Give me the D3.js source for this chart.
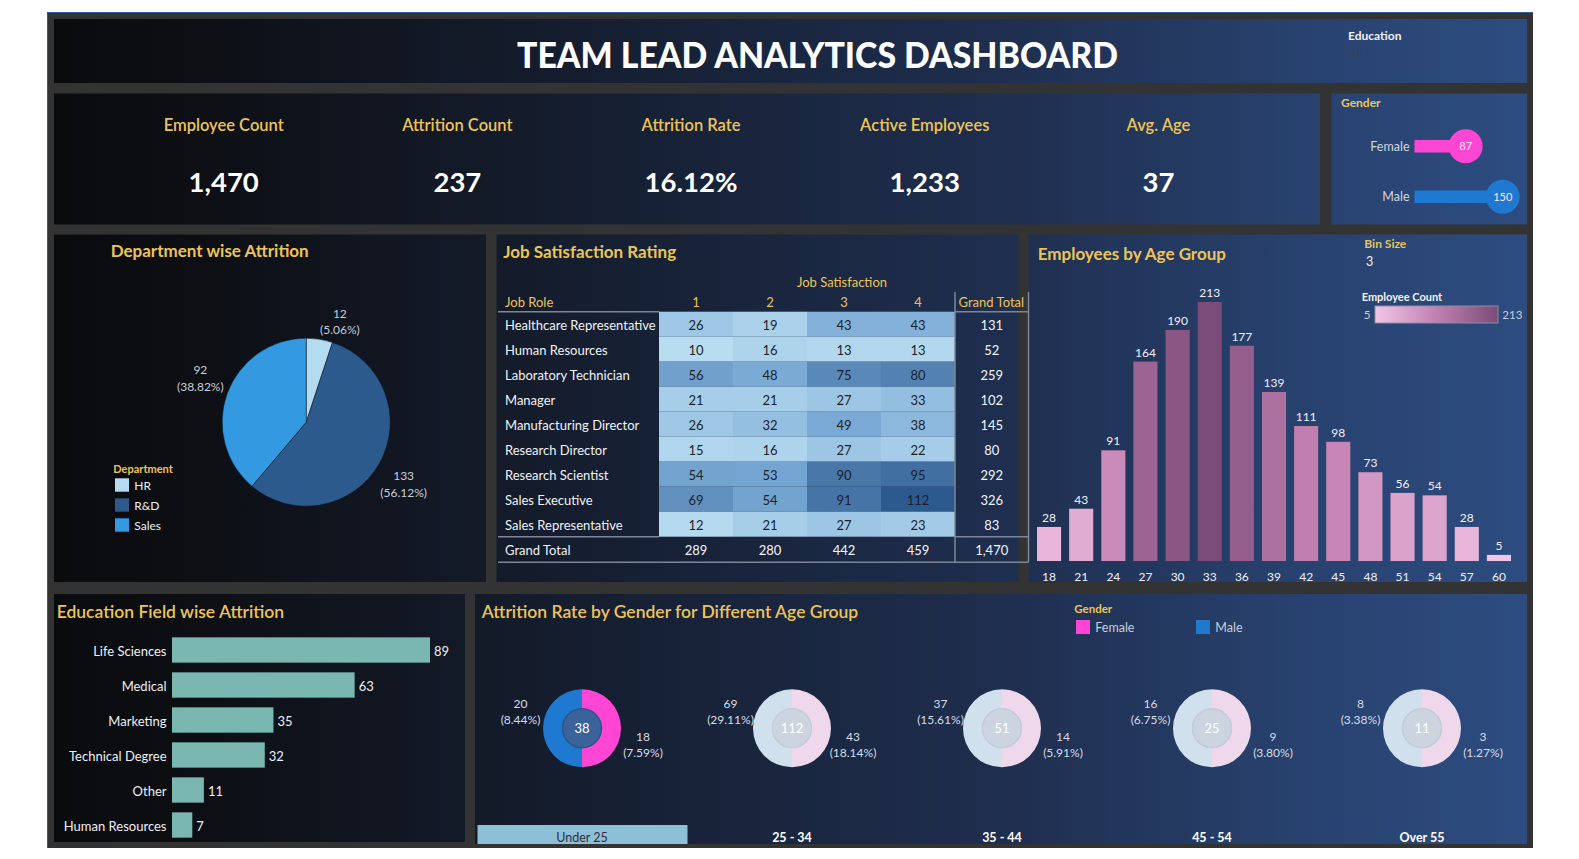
<!DOCTYPE html>
<html>
<head>
<meta charset="utf-8">
<script src="https://cdn.jsdelivr.net/npm/d3@7"></script>
<style>
  html, body { margin: 0; padding: 0; background: #fff; }
  svg { display: block; font-family: Lato, "Noto Sans", sans-serif; }
</style>
</head>
<body>
<div id="chart"></div>
<script>
const W = 1579, H = 859;
const gold = "#ecc45a";

// KPI strip
const kpiLabels = ["Employee Count", "Attrition Count", "Attrition Rate", "Active Employees", "Avg. Age"];
const kpiValues = ["1,470", "237", "16.12%", "1,233", "37"];

// gender filter (lollipop)
const genders = ["Female", "Male"];
const genderCounts = [87, 150];

// department pie
const departments = ["HR", "R&D", "Sales"];
const deptAttrition = [12, 133, 92];
const deptShare = ["5.06%", "56.12%", "38.82%"];

// job satisfaction table
const jobRoles = ["Healthcare Representative", "Human Resources", "Laboratory Technician", "Manager",
  "Manufacturing Director", "Research Director", "Research Scientist", "Sales Executive", "Sales Representative"];
const satLevels = ["1", "2", "3", "4"];
const satCounts = [
  [26, 19, 43, 43],
  [10, 16, 13, 13],
  [56, 48, 75, 80],
  [21, 21, 27, 33],
  [26, 32, 49, 38],
  [15, 16, 27, 22],
  [54, 53, 90, 95],
  [69, 54, 91, 112],
  [12, 21, 27, 23]
];
const roleTotals = [131, 52, 259, 102, 145, 80, 292, 326, 83];
const levelTotals = [289, 280, 442, 459];
const grandTotal = "1,470";

// age histogram
const ageBins = [18, 21, 24, 27, 30, 33, 36, 39, 42, 45, 48, 51, 54, 57, 60];
const ageCounts = [28, 43, 91, 164, 190, 213, 177, 139, 111, 98, 73, 56, 54, 28, 5];

// education field bars
const eduFields = ["Life Sciences", "Medical", "Marketing", "Technical Degree", "Other", "Human Resources"];
const eduAttrition = [89, 63, 35, 32, 11, 7];

// attrition by gender per age group
const ageGroups = ["Under 25", "25 - 34", "35 - 44", "45 - 54", "Over 55"];
const maleAttr = [20, 69, 37, 16, 8];
const malePct = ["8.44%", "29.11%", "15.61%", "6.75%", "3.38%"];
const femaleAttr = [18, 43, 14, 9, 3];
const femalePct = ["7.59%", "18.14%", "5.91%", "3.80%", "1.27%"];
const groupTotals = [38, 112, 51, 25, 11];
const selectedGroup = "Under 25";

const svg = d3.select("#chart").append("svg")
  .attr("width", W)
  .attr("height", H);

const defs = svg.append("defs");

// one background gradient running across the whole dashboard
const bg = defs.append("linearGradient")
  .attr("id", "bg")
  .attr("gradientUnits", "userSpaceOnUse")
  .attr("x1", 54).attr("x2", 1527).attr("y1", 0).attr("y2", 0);
[[0, "#0a0b0d"], [0.1, "#0d0f14"], [0.29, "#131a28"], [0.44, "#182339"],
 [0.655, "#1f2f50"], [0.85, "#28426f"], [1, "#2d4c80"]]
  .forEach(([o, c]) => bg.append("stop").attr("offset", o).attr("stop-color", c));

// frame
svg.append("rect").attr("x", 47).attr("y", 12).attr("width", 1486).attr("height", 836).attr("fill", "#333333");
svg.append("line").attr("x1", 47).attr("x2", 1533).attr("y1", 12.5).attr("y2", 12.5).attr("stroke", "#2d5a9a");
svg.append("line").attr("x1", 47.5).attr("x2", 47.5).attr("y1", 12).attr("y2", 848).attr("stroke", "#2d5a9a");

const panels = [
  { id: "title", x: 54, y: 19, w: 1473, h: 64 },
  { id: "kpi", x: 54, y: 93.5, w: 1266, h: 131 },
  { id: "gender", x: 1331.5, y: 93.5, w: 195.5, h: 131 },
  { id: "dept", x: 54, y: 234.5, w: 432, h: 347.5 },
  { id: "job", x: 496.5, y: 234.5, w: 522, h: 347.5 },
  { id: "age", x: 1028.5, y: 234.5, w: 498.5, h: 347.5 },
  { id: "edu", x: 54, y: 594, w: 411, h: 248 },
  { id: "attr", x: 475, y: 594, w: 1052, h: 250 }
];

panels.forEach(p => {
  svg.append("rect")
    .attr("x", p.x).attr("y", p.y).attr("width", p.w).attr("height", p.h)
    .attr("fill", "url(#bg)");
  defs.append("clipPath").attr("id", `clip-${p.id}`)
    .append("rect").attr("x", p.x).attr("y", p.y).attr("width", p.w).attr("height", p.h);
});

// ---------- title
svg.append("text")
  .attr("x", 817.5).attr("y", 67.5)
  .attr("text-anchor", "middle")
  .attr("fill", "#ffffff")
  .attr("font-size", 36).attr("font-weight", 900)
  .attr("textLength", 601).attr("lengthAdjust", "spacingAndGlyphs")
  .text("TEAM LEAD ANALYTICS DASHBOARD");

svg.append("text").attr("x", 1348).attr("y", 40).attr("fill", "#f2f2f2")
  .attr("font-size", 12).attr("font-weight", 700).text("Education");
svg.append("text").attr("x", 1349).attr("y", 58).attr("fill", "#34415c")
  .attr("font-size", 12).text("All");

// ---------- KPIs
const kpiX = d3.scalePoint().domain(kpiLabels).range([223.7, 1158.4]);
const kpi = svg.append("g").selectAll("g").data(kpiLabels).join("g")
  .attr("transform", d => `translate(${kpiX(d)},0)`);
kpi.append("text").attr("y", 131).attr("text-anchor", "middle")
  .attr("fill", gold).attr("font-size", 16.5).attr("font-weight", 600)
  .text(d => d);
kpi.append("text").attr("y", 192).attr("text-anchor", "middle")
  .attr("fill", "#ffffff").attr("font-size", 27.5).attr("font-weight", 700)
  .text((d, i) => kpiValues[i]);

// ---------- gender lollipop
svg.append("text").attr("x", 1341).attr("y", 106.7).attr("fill", gold)
  .attr("font-size", 12).attr("font-weight", 700).text("Gender");

const gx = d3.scaleLinear().domain([0, 150]).range([1414.5, 1502.7]);
const gy = d3.scaleBand().domain(genders).range([121, 222]);
const genderColor = d3.scaleOrdinal().domain(genders).range(["#ff45d4", "#2079d1"]);

const lol = svg.append("g").selectAll("g").data(genders).join("g")
  .attr("transform", d => `translate(0,${gy(d) + gy.bandwidth() / 2})`);
lol.append("rect")
  .attr("x", gx(0)).attr("y", -6.3)
  .attr("width", (d, i) => gx(genderCounts[i]) - gx(0)).attr("height", 12.6)
  .attr("fill", d => genderColor(d));
lol.append("circle")
  .attr("cx", (d, i) => gx(genderCounts[i])).attr("r", 17)
  .attr("fill", d => genderColor(d));
lol.append("text")
  .attr("x", (d, i) => gx(genderCounts[i])).attr("dy", "0.35em")
  .attr("text-anchor", "middle").attr("fill", "#fbe6f6").attr("font-size", 11)
  .text((d, i) => genderCounts[i]);
lol.append("text")
  .attr("x", gx(0) - 5).attr("dy", "0.35em")
  .attr("text-anchor", "end").attr("fill", "#d2d6de").attr("font-size", 12.5)
  .text(d => d);

// ---------- department pie
svg.append("text").attr("x", 110.7).attr("y", 256.7).attr("fill", gold)
  .attr("font-size", 17).attr("font-weight", 700).text("Department wise Attrition");

const deptColor = d3.scaleOrdinal().domain(departments).range(["#b4dbf0", "#2c5a8c", "#3399e0"]);
const pie = d3.pie().sort(null).value(d => d.value);
const deptData = departments.map((d, i) => ({ name: d, value: deptAttrition[i], share: deptShare[i] }));
const arcs = pie(deptData);
const arc = d3.arc().innerRadius(0).outerRadius(84);
const pieG = svg.append("g").attr("transform", "translate(306.2,422.2)");
pieG.selectAll("path").data(arcs).join("path")
  .attr("d", arc)
  .attr("fill", d => deptColor(d.data.name))
  .attr("stroke", "#0f1420").attr("stroke-width", 0.5);

// labels sit outside the rim, a little past the slice middle; thin slices get pushed round
const labelAngle = d => Math.max((d.startAngle + d.endAngle) / 2 + 0.05, 0.32);
const labelRadius = d => (d.endAngle - d.startAngle) < 0.5 ? 107 : 115;
const pieLabels = pieG.selectAll("g.lbl").data(arcs).join("g")
  .attr("class", "lbl")
  .attr("transform", d => {
    const a = labelAngle(d), r = labelRadius(d);
    return `translate(${r * Math.sin(a)},${-r * Math.cos(a)})`;
  });
pieLabels.append("text").attr("text-anchor", "middle").attr("y", -3)
  .attr("fill", "#c9ced8").attr("font-size", 12).text(d => d.data.value);
pieLabels.append("text").attr("text-anchor", "middle").attr("y", 13.7)
  .attr("fill", "#c9ced8").attr("font-size", 12).text(d => `(${d.data.share})`);

svg.append("text").attr("x", 113.3).attr("y", 473.3).attr("fill", gold)
  .attr("font-size", 11).attr("font-weight", 700).text("Department");
const leg = svg.append("g").selectAll("g").data(departments).join("g")
  .attr("transform", (d, i) => `translate(115,${478.3 + i * 20})`);
leg.append("rect").attr("width", 14).attr("height", 13.4).attr("fill", d => deptColor(d));
leg.append("text").attr("x", 19.3).attr("y", 11.7).attr("fill", "#eceef2")
  .attr("font-size", 12).text(d => d);

// ---------- job satisfaction table
svg.append("text").attr("x", 503.3).attr("y", 258.3).attr("fill", gold)
  .attr("font-size", 17).attr("font-weight", 700).text("Job Satisfaction Rating");

const cx = d3.scaleBand().domain(satLevels).range([659, 955]);
const ry = d3.scaleBand().domain(jobRoles).range([311.7, 536.7]);
const heatColor = d3.scaleLinear().domain([10, 50, 112]).range(["#b8dcf0", "#78a8d4", "#2c5a8e"]);
const totX = 991.7, totalRowY = 536.7, totalRowH = 25.6;
const lineCol = "#7d8699";
const tf = 13;

svg.append("text").attr("x", (cx.range()[0] + cx.range()[1]) / 2 + 35).attr("y", 287.3)
  .attr("text-anchor", "middle").attr("fill", gold).attr("font-size", tf).text("Job Satisfaction");
svg.append("text").attr("x", 505).attr("y", 307.3).attr("fill", gold).attr("font-size", tf).text("Job Role");
svg.append("text").attr("x", 958.6).attr("y", 307.3).attr("fill", gold).attr("font-size", tf).text("Grand Total");
svg.append("g").selectAll("text").data(satLevels).join("text")
  .attr("x", d => cx(d) + cx.bandwidth() / 2).attr("y", 307.3)
  .attr("text-anchor", "middle").attr("fill", gold).attr("font-size", tf).text(d => d);

const cells = jobRoles.flatMap((r, i) => satLevels.map((s, j) => ({ role: r, level: s, v: satCounts[i][j] })));
const cellG = svg.append("g");
cellG.selectAll("rect").data(cells).join("rect")
  .attr("x", d => cx(d.level)).attr("y", d => ry(d.role))
  .attr("width", cx.bandwidth()).attr("height", ry.bandwidth())
  .attr("fill", d => heatColor(d.v));
cellG.selectAll("text").data(cells).join("text")
  .attr("x", d => cx(d.level) + cx.bandwidth() / 2).attr("y", d => ry(d.role) + ry.bandwidth() / 2 + 1)
  .attr("dy", "0.35em").attr("text-anchor", "middle")
  .attr("fill", "#1b1f2c").attr("font-size", tf).text(d => d.v);

svg.append("g").selectAll("text").data(jobRoles).join("text")
  .attr("x", 505).attr("y", d => ry(d) + ry.bandwidth() / 2 + 1).attr("dy", "0.35em")
  .attr("fill", "#f0f2f6").attr("font-size", tf).text(d => d);
svg.append("g").selectAll("text").data(roleTotals).join("text")
  .attr("x", totX).attr("y", (d, i) => ry(jobRoles[i]) + ry.bandwidth() / 2 + 1).attr("dy", "0.35em")
  .attr("text-anchor", "middle").attr("fill", "#f4f5f8").attr("font-size", tf).text(d => d);

svg.append("text").attr("x", 505).attr("y", totalRowY + totalRowH / 2 + 1).attr("dy", "0.35em")
  .attr("fill", "#f0f2f6").attr("font-size", tf).text("Grand Total");
svg.append("g").selectAll("text").data(levelTotals).join("text")
  .attr("x", (d, i) => cx(satLevels[i]) + cx.bandwidth() / 2).attr("y", totalRowY + totalRowH / 2 + 1).attr("dy", "0.35em")
  .attr("text-anchor", "middle").attr("fill", "#f4f5f8").attr("font-size", tf).text(d => d);
svg.append("text").attr("x", totX).attr("y", totalRowY + totalRowH / 2 + 1).attr("dy", "0.35em")
  .attr("text-anchor", "middle").attr("fill", "#f4f5f8").attr("font-size", tf).text(grandTotal);

// table rules
const rules = [
  [498, 659, 311.7, 311.7], [955, 1028.5, 311.7, 311.7],
  [498, 659, 536.7, 536.7], [955, 1028.5, 536.7, 536.7],
  [498, 1028.5, 562.3, 562.3],
  [955, 955, 292, 562.3], [1028.5, 1028.5, 292, 562.3]
];
svg.append("g").selectAll("line").data(rules).join("line")
  .attr("x1", d => d[0]).attr("x2", d => d[1]).attr("y1", d => d[2]).attr("y2", d => d[3])
  .attr("stroke", lineCol).attr("stroke-width", 1.5);

// ---------- employees by age group
svg.append("text").attr("x", 1037.7).attr("y", 260).attr("fill", gold)
  .attr("font-size", 17).attr("font-weight", 700).text("Employees by Age Group");
svg.append("text").attr("x", 1364.3).attr("y", 248.3).attr("fill", gold)
  .attr("font-size", 12).attr("font-weight", 700).text("Bin Size");
svg.append("text").attr("x", 1366).attr("y", 266).attr("fill", "#f2f2f2")
  .attr("font-size", 12.5).text("3");

const ax = d3.scaleBand().domain(ageBins).range([1033, 1515]).paddingInner(0.25).paddingOuter(0.125);
const ay = d3.scaleLinear().domain([0, 213]).range([561, 302]);
const ageColor = d3.scaleLinear().domain([5, 100, 213]).range(["#f1c6e6", "#c785b5", "#7b4b79"]);

const ageG = svg.append("g");
ageG.selectAll("rect").data(ageBins).join("rect")
  .attr("x", d => ax(d)).attr("width", ax.bandwidth())
  .attr("y", (d, i) => ay(ageCounts[i])).attr("height", (d, i) => ay(0) - ay(ageCounts[i]))
  .attr("fill", (d, i) => ageColor(ageCounts[i]));
ageG.selectAll("text.v").data(ageBins).join("text").attr("class", "v")
  .attr("x", d => ax(d) + ax.bandwidth() / 2).attr("y", (d, i) => ay(ageCounts[i]) - 5)
  .attr("text-anchor", "middle").attr("fill", "#f0f0f4").attr("font-size", 12)
  .text((d, i) => ageCounts[i]);

const ageAxis = svg.append("g").attr("transform", "translate(0,561)")
  .call(d3.axisBottom(ax).tickSize(0).tickPadding(11));
ageAxis.select(".domain").remove();
ageAxis.selectAll("text").attr("fill", "#f0f0f4").attr("font-size", 12)
  .attr("font-family", "Lato, 'Noto Sans', sans-serif");

// colour legend
svg.append("text").attr("x", 1361.7).attr("y", 300.7).attr("fill", "#f2f2f2")
  .attr("font-size", 11).attr("font-weight", 700).text("Employee Count");
const ramp = defs.append("linearGradient").attr("id", "ramp");
d3.range(0, 1.001, 0.1).forEach(t => ramp.append("stop").attr("offset", t)
  .attr("stop-color", ageColor(5 + t * 208)));
svg.append("rect").attr("x", 1375).attr("y", 306).attr("width", 123).attr("height", 17)
  .attr("fill", "url(#ramp)").attr("stroke", "#8a90a2").attr("stroke-width", 1);
svg.append("text").attr("x", 1370.5).attr("y", 319.3).attr("text-anchor", "end")
  .attr("fill", "#c9ced8").attr("font-size", 11.5).text(d3.min(ageCounts));
svg.append("text").attr("x", 1502.3).attr("y", 319.3)
  .attr("fill", "#c9ced8").attr("font-size", 11.5).text(d3.max(ageCounts));

// ---------- education field bars
svg.append("text").attr("x", 56.7).attr("y", 617.7).attr("fill", gold)
  .attr("font-size", 17.5).attr("font-weight", 600).text("Education Field wise Attrition");

const ex = d3.scaleLinear().domain([0, 89]).range([172, 430]);
const ey = d3.scaleBand().domain(eduFields).range([632.5, 842.5]).paddingInner(0.277).paddingOuter(0.1385);
const eduG = svg.append("g").attr("clip-path", "url(#clip-edu)");
eduG.selectAll("rect").data(eduFields).join("rect")
  .attr("x", ex(0)).attr("y", d => ey(d))
  .attr("width", (d, i) => ex(eduAttrition[i]) - ex(0)).attr("height", ey.bandwidth())
  .attr("fill", "#79b7b0");
eduG.selectAll("text.v").data(eduFields).join("text").attr("class", "v")
  .attr("x", (d, i) => ex(eduAttrition[i]) + 4).attr("y", d => ey(d) + ey.bandwidth() / 2 + 1)
  .attr("dy", "0.35em").attr("fill", "#eef0f4").attr("font-size", 13)
  .text((d, i) => eduAttrition[i]);
eduG.selectAll("text.k").data(eduFields).join("text").attr("class", "k")
  .attr("x", ex(0) - 5.5).attr("y", d => ey(d) + ey.bandwidth() / 2 + 1)
  .attr("dy", "0.35em").attr("text-anchor", "end").attr("fill", "#eef0f4").attr("font-size", 13)
  .text(d => d);

// ---------- attrition rate by gender for age groups
const attrG = svg.append("g").attr("clip-path", "url(#clip-attr)");
attrG.append("text").attr("x", 481.8).attr("y", 617.7).attr("fill", gold)
  .attr("font-size", 17.5).attr("font-weight", 600).text("Attrition Rate by Gender for Different Age Group");

attrG.append("text").attr("x", 1074.3).attr("y", 613.3).attr("fill", gold)
  .attr("font-size", 11.5).attr("font-weight", 700).text("Gender");
const gLeg = attrG.append("g").selectAll("g").data(genders).join("g")
  .attr("transform", (d, i) => `translate(${1076 + i * 120},620)`);
gLeg.append("rect").attr("width", 14).attr("height", 14).attr("fill", d => genderColor(d));
gLeg.append("text").attr("x", 19.3).attr("y", 11.7).attr("fill", "#c9ced8")
  .attr("font-size", 12.5).text(d => d);

const dx = d3.scalePoint().domain(ageGroups).range([582, 1422]);
const step = dx.step();
const donutY = 728.3;
const fadedColor = d3.scaleOrdinal().domain(genders).range(["#f0d8ec", "#d0e0ed"]);
const ring = d3.arc().innerRadius(19.5).outerRadius(39);
const halves = d3.pie().sort(null).value(() => 1);

const groupData = ageGroups.map((g, i) => ({
  group: g, total: groupTotals[i],
  parts: [{ gender: "Female", v: femaleAttr[i] }, { gender: "Male", v: maleAttr[i] }],
  male: maleAttr[i], malePct: malePct[i], female: femaleAttr[i], femalePct: femalePct[i]
}));

const donut = attrG.append("g").selectAll("g").data(groupData).join("g")
  .attr("transform", d => `translate(${dx(d.group)},${donutY})`);
donut.selectAll("path").data(d => halves(d.parts).map(a => ({ a, sel: d.group === selectedGroup }))).join("path")
  .attr("d", d => ring(d.a))
  .attr("fill", d => d.sel ? genderColor(d.a.data.gender) : fadedColor(d.a.data.gender));
donut.append("circle").attr("r", 19.5)
  .attr("fill", d => d.group === selectedGroup ? "#3a639c" : "#ccd5df")
  .attr("stroke", d => d.group === selectedGroup ? "#2e5489" : "#c3ccd8").attr("stroke-width", 1.5);
donut.append("text").attr("dy", "0.35em").attr("text-anchor", "middle")
  .attr("fill", "#ffffff").attr("font-size", 13).text(d => d.total);

const labelFill = "#d8dce4";
donut.append("text").attr("x", -61.5).attr("y", -20).attr("text-anchor", "middle")
  .attr("fill", labelFill).attr("font-size", 12).text(d => d.male);
donut.append("text").attr("x", -61.5).attr("y", -4).attr("text-anchor", "middle")
  .attr("fill", labelFill).attr("font-size", 12).text(d => `(${d.malePct})`);
donut.append("text").attr("x", 61).attr("y", 12.4).attr("text-anchor", "middle")
  .attr("fill", labelFill).attr("font-size", 12).text(d => d.female);
donut.append("text").attr("x", 61).attr("y", 28.4).attr("text-anchor", "middle")
  .attr("fill", labelFill).attr("font-size", 12).text(d => `(${d.femalePct})`);

// age group header along the bottom
const hdr = attrG.append("g").selectAll("g").data(ageGroups).join("g")
  .attr("transform", d => `translate(${dx(d)},0)`);
hdr.filter(d => d === selectedGroup).append("rect")
  .attr("x", -step / 2 + 0.5).attr("y", 825).attr("width", step).attr("height", 20)
  .attr("fill", "#8dbfd6");
hdr.append("text").attr("y", 842).attr("text-anchor", "middle")
  .attr("fill", d => d === selectedGroup ? "#2a3040" : "#ffffff")
  .attr("font-size", 12.5).attr("font-weight", d => d === selectedGroup ? 400 : 700)
  .text(d => d);
</script>
</body>
</html>
